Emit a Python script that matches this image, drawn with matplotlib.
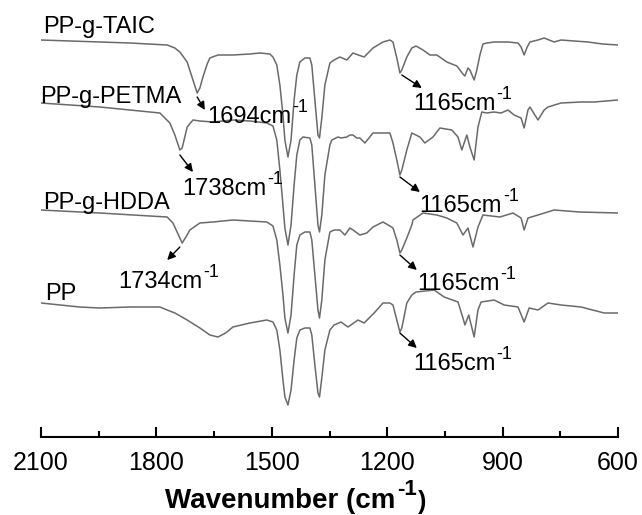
import matplotlib
matplotlib.use("Agg")
import matplotlib.pyplot as plt
from matplotlib.ticker import MultipleLocator

plt.rcParams['font.family'] = ['Liberation Sans', 'DejaVu Sans']

# ---- data: wavenumber (cm-1) and offset transmittance (a.u.) ----
taic_wn = [2100, 1947, 1869, 1772, 1752, 1739, 1720, 1705, 1694, 1687, 1679, 1668, 1661, 1640, 1601, 1557,
           1531, 1505, 1497, 1487, 1479, 1471, 1466, 1458, 1450, 1442, 1435, 1427, 1414, 1401, 1396, 1388,
           1380, 1376, 1370, 1362, 1349, 1338, 1323, 1305, 1289, 1275, 1260, 1237, 1211, 1193, 1185, 1175,
           1167, 1162, 1149, 1136, 1125, 1107, 1089, 1071, 1045, 1019, 1003, 998, 990, 985, 974, 967, 959,
           951, 941, 922, 886, 860, 852, 844, 836, 829, 808, 792, 766, 748, 714, 678, 640, 600]
taic_t = [400, 398, 397, 395, 392, 388, 378, 360, 347, 352, 363, 376, 382, 385, 385, 386,
          387, 386, 383, 375, 355, 325, 300, 283, 300, 340, 365, 378, 382, 382, 375, 340,
          305, 302, 322, 355, 377, 380, 383, 380, 387, 385, 383, 392, 398, 400, 398, 382,
          367, 370, 383, 392, 394, 390, 385, 385, 378, 374, 366, 364, 372, 370, 360, 370, 385,
          396, 397, 398, 398, 397, 393, 385, 393, 398, 400, 402, 398, 400, 399, 398, 396, 395]

petma_wn = [2100, 1947, 1869, 1791, 1765, 1752, 1739, 1733, 1720, 1705, 1687, 1653, 1601, 1557, 1513,
            1497, 1487, 1479, 1471, 1466, 1458, 1450, 1442, 1435, 1427, 1419, 1401, 1396, 1388, 1380,
            1376, 1370, 1362, 1349, 1344, 1328, 1320, 1305, 1297, 1289, 1279, 1271, 1258, 1237, 1211,
            1193, 1185, 1175, 1167, 1162, 1149, 1136, 1115, 1102, 1081, 1063, 1032, 1016, 1006, 993,
            985, 974, 964, 954, 941, 922, 904, 886, 870, 852, 844, 834, 829, 808, 792, 782, 748, 696,
            662, 600]
petma_t = [337, 333, 330, 327, 317, 305, 290, 292, 313, 320, 319, 318, 320, 319, 317,
           314, 300, 270, 235, 212, 195, 215, 255, 285, 300, 303, 302, 295, 255, 215,
           208, 225, 265, 295, 300, 303, 302, 303, 305, 305, 302, 302, 297, 307, 307,
           307, 297, 280, 265, 270, 290, 307, 303, 297, 303, 312, 310, 303, 290, 305,
           293, 280, 313, 328, 327, 328, 327, 330, 325, 322, 312, 330, 333, 320, 330, 333, 337, 338,
           338, 340]

hdda_wn = [2100, 1947, 1817, 1772, 1757, 1745, 1733, 1720, 1713, 1687, 1653, 1601, 1513, 1497, 1487,
           1479, 1471, 1466, 1458, 1450, 1442, 1435, 1427, 1414, 1401, 1396, 1388, 1380, 1376, 1370,
           1362, 1349, 1338, 1323, 1310, 1297, 1289, 1271, 1253, 1237, 1211, 1193, 1185, 1175, 1167,
           1162, 1149, 1136, 1133, 1107, 1071, 1045, 1019, 1003, 990, 977, 964, 951, 907, 873, 852,
           844, 834, 808, 766, 700, 600]
hdda_t = [230, 227, 224, 223, 217, 207, 197, 205, 210, 217, 218, 220, 218, 214, 200,
          175, 145, 122, 107, 125, 165, 195, 205, 208, 208, 200, 165, 130, 122, 140,
          180, 208, 210, 210, 205, 212, 210, 205, 207, 213, 218, 214, 212, 200, 187,
          190, 202, 215, 220, 227, 225, 222, 217, 205, 212, 193, 213, 225, 223, 227, 222,
          210, 222, 225, 230, 228, 227]

pp_wn = [2100, 2000, 1947, 1869, 1791, 1772, 1752, 1720, 1687, 1661, 1640, 1620, 1601, 1557, 1513,
         1497, 1487, 1479, 1471, 1466, 1458, 1450, 1442, 1435, 1427, 1414, 1401, 1396, 1388, 1380,
         1376, 1370, 1362, 1349, 1338, 1320, 1302, 1276, 1260, 1234, 1211, 1193, 1185, 1175, 1167,
         1162, 1149, 1136, 1125, 1078, 1052, 1016, 1003, 998, 988, 974, 964, 956, 922, 896, 860,
         844, 831, 808, 782, 748, 696, 636, 600]
pp_t = [137, 133, 132, 133, 133, 130, 127, 120, 112, 105, 103, 107, 113, 117, 120,
        118, 110, 90, 60, 43, 35, 50, 80, 102, 110, 112, 112, 105, 75, 47,
        43, 62, 90, 110, 115, 118, 113, 120, 117, 127, 137, 137, 135, 120, 108,
        112, 137, 145, 148, 150, 143, 138, 122, 115, 125, 103, 130, 138, 140, 135, 133,
        118, 132, 130, 137, 135, 133, 127, 127]

series_names = ['PP-g-TAIC', 'PP-g-PETMA', 'PP-g-HDDA', 'PP']
series_wn = [taic_wn, petma_wn, hdda_wn, pp_wn]
series_t = [taic_t, petma_t, hdda_t, pp_t]

xticks = [2100, 1800, 1500, 1200, 900, 600]

fig = plt.figure(figsize=(6.42, 5.15), dpi=100)
ax = fig.add_axes([41/642, 78/515, 577/642, 437/515])

line_color = '#6a6a6a'
for wn, t in zip(series_wn, series_t):
    ax.plot(wn, t, color=line_color, lw=1.1, solid_joinstyle='round')

ax.set_xlim(2100, 600)
ax.set_ylim(3, 440)

for s in ['top', 'left', 'right']:
    ax.spines[s].set_visible(False)
ax.spines['bottom'].set_linewidth(1.5)
ax.set_yticks([])
ax.set_xticks(xticks)
ax.set_xticklabels([str(v) for v in xticks])
ax.xaxis.set_minor_locator(MultipleLocator(150))
ax.tick_params(axis='x', which='major', direction='in', length=7, width=1.5, pad=10, labelsize=18)
ax.tick_params(axis='x', which='minor', direction='in', length=4, width=1.5)

# x label: "Wavenumber (cm" with a raised "-1" and closing bracket
xl = ax.set_xlabel('Wavenumber (cm', fontsize=20, fontweight='bold')
ax.xaxis.label.set_ha('left')
ax.xaxis.label.set_va('baseline')
ax.xaxis.set_label_coords((165 - 41) / 577, (437 - 508) / 437)
sup = ax.annotate('-1', xy=(1.0, 0.95), xycoords=xl, xytext=(1, 0), textcoords='offset points',
                  fontsize=16, fontweight='bold', ha='left', va='center')
ax.annotate(')', xy=(1.0, 0.0), xycoords=(sup, xl), xytext=(1, 0), textcoords='offset points',
            fontsize=18, fontweight='bold', ha='left', va='bottom')

fs = 17
# series labels
label_pos = [(2095, 407), (2103, 337), (2095, 231), (2090, 140)]
for name, (x, y) in zip(series_names, label_pos):
    ax.text(x, y, name, fontsize=fs, ha='left', va='baseline', color='black')

# peak annotations: (text, arrow tail, arrow head, text position)
annots = [
    ('1694', (1694, 343), (1674, 330), (1668, 317)),
    ('1738', (1739, 285), (1705, 268), (1733, 245)),
    ('1734', (1739, 193), (1772, 180), (1900, 152)),
    ('1165', (1162, 365), (1110, 352), (1133, 330)),
    ('1165', (1167, 263), (1115, 248), (1117, 228)),
    ('1165', (1167, 185), (1123, 170), (1123, 150)),
    ('1165', (1167, 107), (1123, 92), (1133, 70)),
]
for txt, tail, head, tpos in annots:
    ax.annotate('', xy=head, xytext=tail,
                arrowprops=dict(arrowstyle='-|>', color='black', lw=1.0,
                                mutation_scale=12, shrinkA=0, shrinkB=0))
    t = ax.text(tpos[0], tpos[1], txt + 'cm', fontsize=fs, ha='left', va='baseline', color='black')
    ax.annotate('-1', xy=(1.0, 0.95), xycoords=t, xytext=(1, 0), textcoords='offset points',
                fontsize=13, ha='left', va='center', color='black')

fig.savefig('out.png', dpi=100)
